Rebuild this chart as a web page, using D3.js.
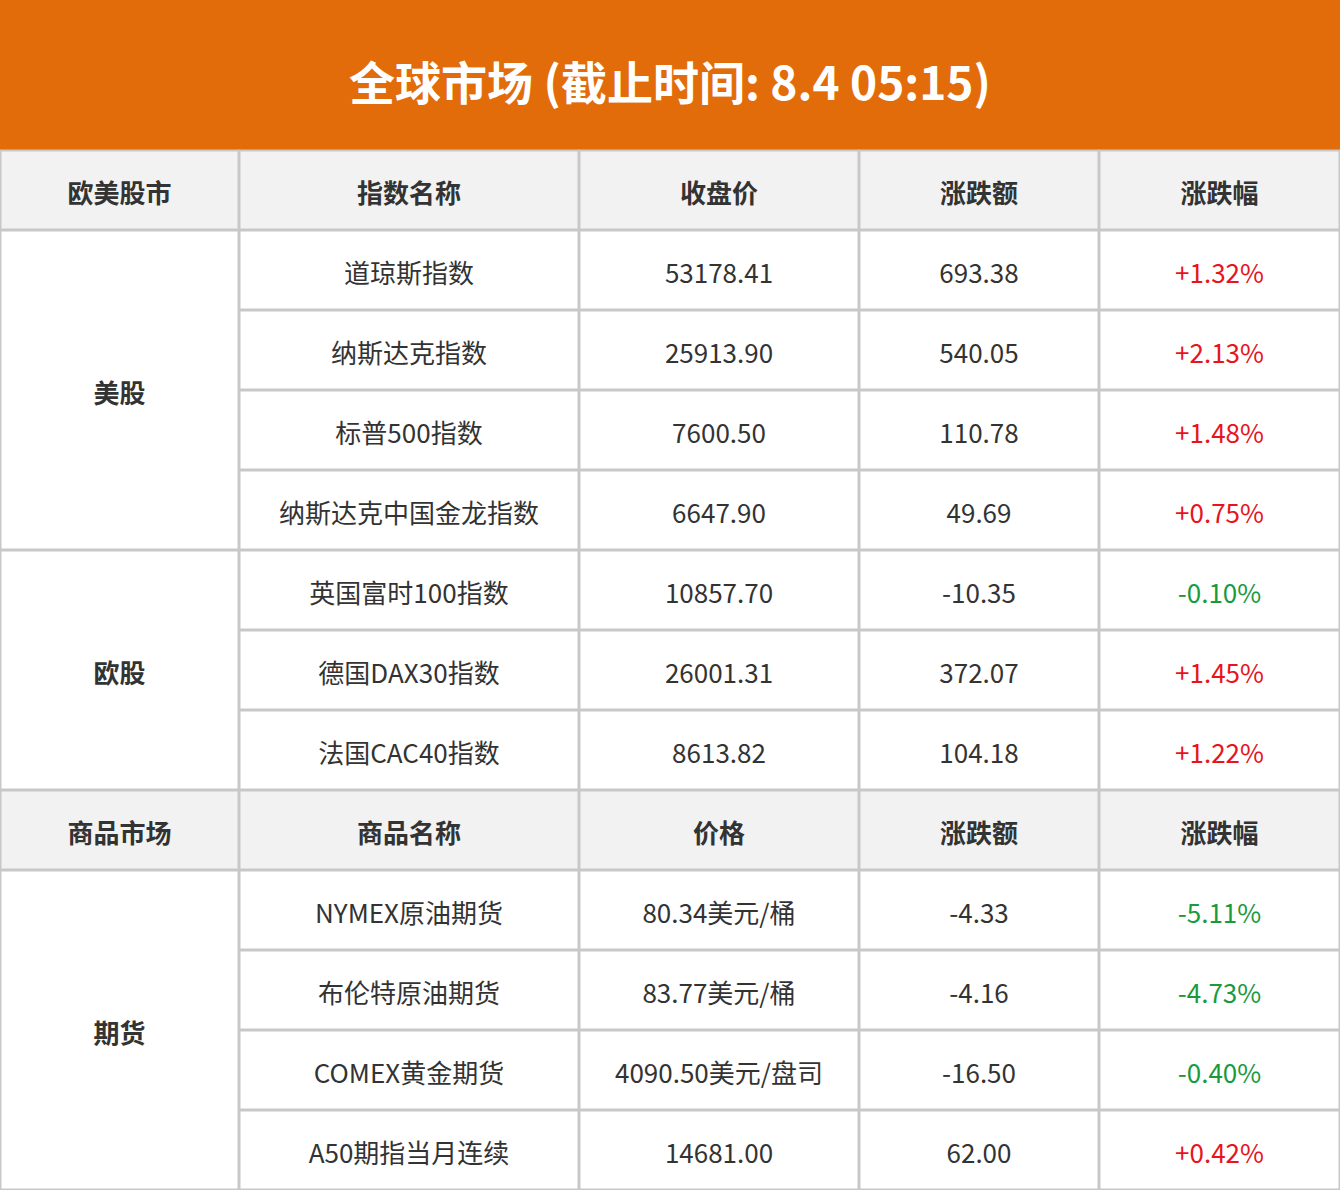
<!DOCTYPE html>
<html><head><meta charset="utf-8">
<script src="https://cdn.jsdelivr.net/npm/d3@7"></script>
<style>body{margin:0;background:#fff}</style>
</head><body>
<svg id="chart" width="1340" height="1190"></svg>
<script>
const title = "全球市场 (截止时间: 8.4 05:15)";
const header1 = ["欧美股市", "指数名称", "收盘价", "涨跌额", "涨跌幅"];
const header2 = ["商品市场", "商品名称", "价格", "涨跌额", "涨跌幅"];
const names1 = ["道琼斯指数", "纳斯达克指数", "标普500指数", "纳斯达克中国金龙指数", "英国富时100指数", "德国DAX30指数", "法国CAC40指数"];
const prices1 = ["53178.41", "25913.90", "7600.50", "6647.90", "10857.70", "26001.31", "8613.82"];
const changes1 = ["693.38", "540.05", "110.78", "49.69", "-10.35", "372.07", "104.18"];
const pcts1 = ["+1.32%", "+2.13%", "+1.48%", "+0.75%", "-0.10%", "+1.45%", "+1.22%"];
const groups1 = [{ name: "美股", n: 4 }, { name: "欧股", n: 3 }];
const names2 = ["NYMEX原油期货", "布伦特原油期货", "COMEX黄金期货", "A50期指当月连续"];
const prices2 = ["80.34美元/桶", "83.77美元/桶", "4090.50美元/盘司", "14681.00"];
const changes2 = ["-4.33", "-4.16", "-16.50", "62.00"];
const pcts2 = ["-5.11%", "-4.73%", "-0.40%", "+0.42%"];
const groups2 = [{ name: "期货", n: 4 }];

const svg = d3.select("#chart");
const colX = [0, 239, 579, 859, 1099, 1340];
const rowH = 80, top0 = 150;
const font = "'Noto Sans CJK SC','Noto Sans',sans-serif";
const lineC = "#c8c8c8";

svg.append("rect").attr("width", 1340).attr("height", 150).attr("fill", "#e36c0a");
svg.append("text").attr("x", 670).attr("y", 80).attr("text-anchor", "middle")
  .attr("dominant-baseline", "central").attr("fill", "#fff")
  .style("font-family", font).style("font-size", "46px").style("font-weight", "700").text(title);

function cell(ci, y, h, txt, opt) {
  opt = opt || {};
  if (opt.bg) svg.append("rect").attr("x", colX[ci]).attr("y", y).attr("width", colX[ci + 1] - colX[ci]).attr("height", h).attr("fill", opt.bg);
  svg.append("rect").attr("x", colX[ci] + 0.5).attr("y", y + 0.5).attr("width", colX[ci + 1] - colX[ci] - 1).attr("height", h - 1)
    .attr("fill", "none").attr("stroke", lineC).attr("stroke-width", 2);
  svg.append("text").attr("x", (colX[ci] + colX[ci + 1]) / 2).attr("y", y + h / 2 + 1)
    .attr("text-anchor", "middle").attr("dominant-baseline", "central")
    .attr("fill", opt.color || "#333").style("font-family", font).style("font-size", "26px")
    .style("font-weight", opt.bold ? "700" : "400").text(txt);
}
const pctColor = p => p[0] === "-" ? "#1a9a3a" : "#e8141c";

function section(y, header, groups, names, prices, changes, pcts) {
  header.forEach((h, i) => cell(i, y, rowH, h, { bg: "#f2f2f2", bold: true }));
  y += rowH;
  let r = 0;
  groups.forEach(g => {
    cell(0, y + r * rowH, g.n * rowH, g.name, { bold: true });
    for (let k = 0; k < g.n; k++, r++) {
      const yy = y + r * rowH;
      cell(1, yy, rowH, names[r]);
      cell(2, yy, rowH, prices[r]);
      cell(3, yy, rowH, changes[r]);
      cell(4, yy, rowH, pcts[r], { color: pctColor(pcts[r]) });
    }
  });
  return y + r * rowH;
}
let y = section(top0, header1, groups1, names1, prices1, changes1, pcts1);
section(y, header2, groups2, names2, prices2, changes2, pcts2);
</script>
</body></html>
